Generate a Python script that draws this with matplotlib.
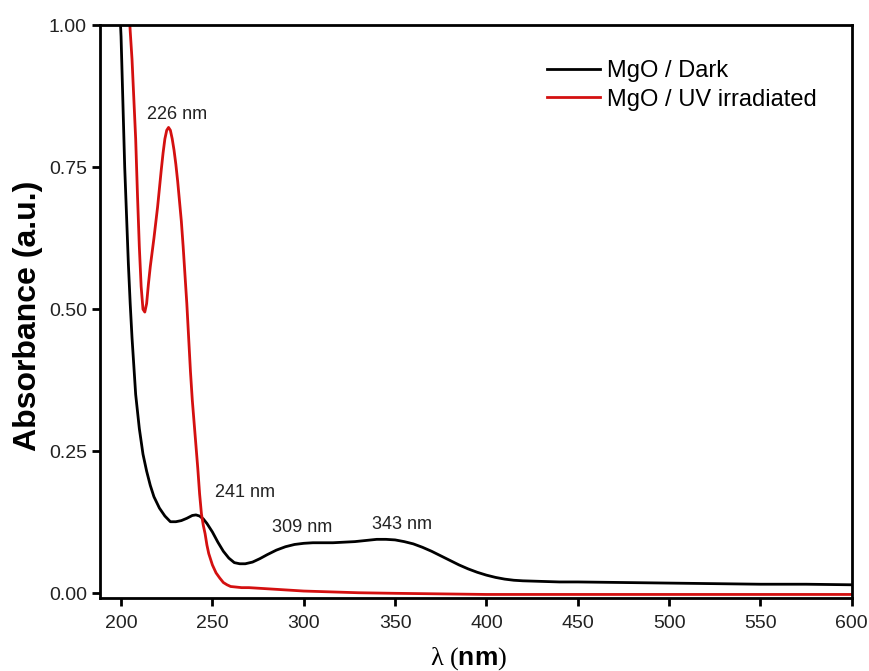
import matplotlib
matplotlib.use("Agg")
import matplotlib.pyplot as plt

plt.rcParams['font.family'] = ['Liberation Sans', 'DejaVu Sans']
plt.rcParams['mathtext.fontset'] = 'custom'
plt.rcParams['mathtext.rm'] = 'Liberation Serif'
plt.rcParams['mathtext.it'] = 'Liberation Serif:italic'
plt.rcParams['mathtext.bf'] = 'Liberation Sans:bold'

# Data
dark_wl = [199, 200, 202, 204, 205, 206, 207, 208, 210, 212, 214, 216, 218, 221, 224, 227,
           230, 233, 236, 239, 241, 243, 245, 247, 250, 253, 256, 259, 262, 265, 268, 272,
           276, 280, 285, 290, 295, 300, 305, 310, 316, 322, 328, 334, 340, 345, 350, 355,
           360, 365, 370, 375, 380, 385, 390, 395, 400, 405, 410, 415, 420, 430, 440, 450,
           475, 500, 525, 550, 575, 600]
dark_abs = [1.05, 0.98, 0.75, 0.58, 0.51, 0.45, 0.40, 0.35, 0.29, 0.245, 0.215, 0.19, 0.17,
            0.15, 0.136, 0.126, 0.126, 0.128, 0.132, 0.137, 0.138, 0.136, 0.131, 0.123, 0.108,
            0.09, 0.074, 0.062, 0.054, 0.052, 0.052, 0.055, 0.061, 0.068, 0.076, 0.082, 0.086,
            0.088, 0.089, 0.089, 0.089, 0.090, 0.091, 0.093, 0.095, 0.095, 0.094, 0.091, 0.087,
            0.081, 0.074, 0.066, 0.058, 0.050, 0.043, 0.037, 0.032, 0.028, 0.025, 0.023, 0.022,
            0.021, 0.020, 0.020, 0.019, 0.018, 0.017, 0.016, 0.016, 0.015]

uv_wl = [204, 205, 206, 207, 208, 209, 210, 211, 212, 213, 214, 215, 216, 218, 220, 222, 223,
         224, 225, 226, 227, 228, 229, 230, 231, 232, 233, 234, 235, 236, 237, 238, 239, 240,
         241, 242, 243, 244, 245, 246, 247, 248, 250, 252, 254, 256, 258, 260, 263, 266, 270,
         275, 280, 290, 300, 310, 320, 330, 350, 400, 450, 500, 550, 600]
uv_abs = [1.05, 0.99, 0.94, 0.87, 0.80, 0.70, 0.61, 0.54, 0.50, 0.495, 0.51, 0.545, 0.575,
          0.625, 0.68, 0.745, 0.775, 0.80, 0.815, 0.82, 0.815, 0.80, 0.78, 0.755, 0.725, 0.69,
          0.655, 0.61, 0.56, 0.51, 0.45, 0.39, 0.34, 0.30, 0.26, 0.22, 0.175, 0.14, 0.12, 0.105,
          0.085, 0.07, 0.05, 0.036, 0.027, 0.019, 0.015, 0.012, 0.011, 0.010, 0.010, 0.009,
          0.008, 0.006, 0.004, 0.003, 0.002, 0.001, 0.000, -0.002, -0.002, -0.002, -0.002, -0.002]

labels = ["226 nm", "241 nm", "309 nm", "343 nm"]
label_x = [230.9, 267.6, 299.0, 353.7]
label_y = [0.842, 0.177, 0.116, 0.122]

xticks = [200, 250, 300, 350, 400, 450, 500, 550, 600]
yticks = [0.00, 0.25, 0.50, 0.75, 1.00]

fig = plt.figure(figsize=(8.7, 6.71), dpi=100)
ax = fig.add_axes([0.115, 0.109, 0.864, 0.8535])

ax.plot(dark_wl, dark_abs, color='black', lw=2.0, label='MgO / Dark')
ax.plot(uv_wl, uv_abs, color='#d41010', lw=2.0, label='MgO / UV irradiated')

for t, x, y in zip(labels, label_x, label_y):
    ax.text(x, y, t, ha='center', va='center', fontsize=13, color='#222222')

ax.set_xlim(188.5, 600)
ax.set_ylim(-0.008, 1.0)
ax.set_xticks(xticks)
ax.set_yticks(yticks)
ax.set_yticklabels([f"{v:.2f}" for v in yticks])
ax.tick_params(direction='out', length=6, width=2, labelsize=14, colors='black',
               labelcolor='#222222')
ax.tick_params(axis='x', pad=6)
ax.tick_params(axis='y', pad=3.5)
for s in ax.spines.values():
    s.set_linewidth(2)

ax.set_ylabel('Absorbance (a.u.)', fontsize=23, fontweight='bold', va='center')
ax.yaxis.set_label_coords(-0.096, 0.493)
ax.set_xlabel(r'$\mathrm{\lambda\ (}\mathbf{nm}\mathrm{)}$', fontsize=19, va='center')
ax.xaxis.set_label_coords(0.49, -0.106)

leg = ax.legend(loc='upper left', bbox_to_anchor=(0.594, 0.939), frameon=False,
                fontsize=17, handlelength=2.25, handletextpad=0.3, labelspacing=0.28,
                borderaxespad=0, borderpad=0)

fig.savefig('out.png', dpi=100)
